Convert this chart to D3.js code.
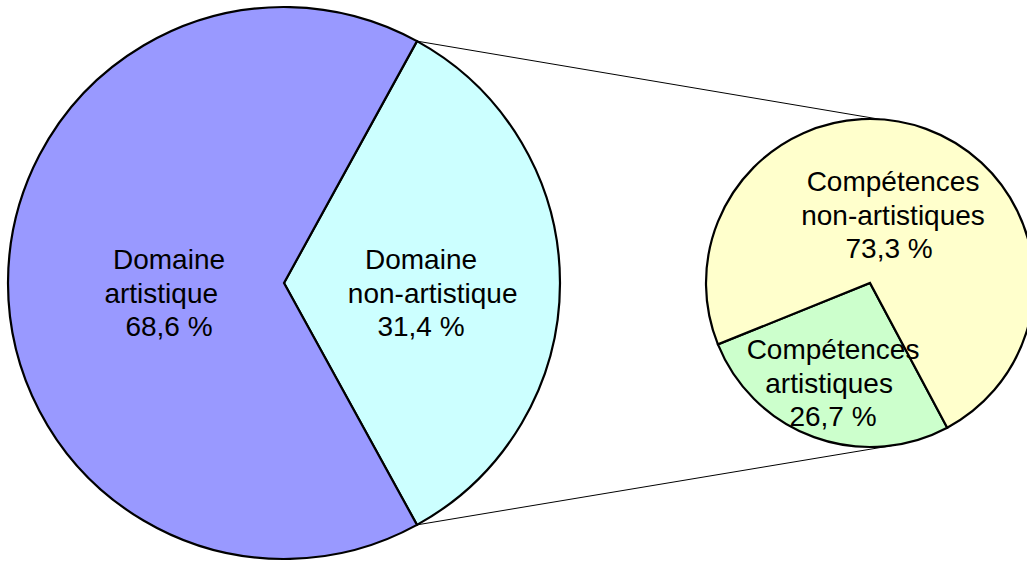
<!DOCTYPE html>
<html>
<head>
<meta charset="utf-8">
<script src="https://cdn.jsdelivr.net/npm/d3@7"></script>
<style>
  body { margin: 0; background: white; }
  svg { display: block; }
</style>
</head>
<body>
<script>
// main pie : share of each slice as drawn (label text kept separately)
var mainCategories = ["Domaine non-artistique", "Domaine artistique"];
var mainValues = [34.0, 66.0];
var mainColors = ["#CCFFFF", "#9999FF"];
var mainLabels = [
  ["Domaine", "\u00a0\u00a0\u00a0non-artistique", "31,4 %"],
  ["Domaine", "artistique\u00a0\u00a0", "68,6 %"]
];

// secondary pie (breakdown of the non-artistic slice)
var subCategories = ["Compétences artistiques", "Compétences non-artistiques"];
var subValues = [26.7, 73.3];
var subColors = ["#CCFFCC", "#FFFFCC"];
var subLabels = [
  ["Compétences", "artistiques\u00a0", "26,7 %"],
  ["Compétences", "non-artistiques", "73,3 %\u00a0"]
];

var width = 1027, height = 561;
var deg = Math.PI / 180;

var svg = d3.select("body")
  .append("svg")
    .attr("width", width)
    .attr("height", height)
    .style("background-color", "white");

// layout of the two pies
var main = {cx: 284, cy: 283, r: 276, start: 28.8};
var sub = {cx: 870, cy: 283, r: 164, start: 151.9};

function point(p, a) {
  return [p.cx + p.r * Math.sin(a * deg), p.cy - p.r * Math.cos(a * deg)];
}

// connector lines between the pies
var lines = [
  [point(main, main.start), point(sub, 3.5)],
  [point(main, main.start + mainValues[0] * 3.6), point(sub, 171.3)]
];
svg.selectAll("line.connector")
  .data(lines)
  .enter()
  .append("line")
  .attr("class", "connector")
  .attr("x1", function(d) { return d[0][0]; })
  .attr("y1", function(d) { return d[0][1]; })
  .attr("x2", function(d) { return d[1][0]; })
  .attr("y2", function(d) { return d[1][1]; })
  .attr("stroke", "#000")
  .attr("stroke-width", 1);

function drawPie(p, values, colors, labels, labelPos) {
  var pie = d3.pie()
    .sort(null)
    .startAngle(p.start * deg)
    .endAngle(p.start * deg + 2 * Math.PI);

  var arc = d3.arc().innerRadius(0).outerRadius(p.r);

  var g = svg.append("g")
    .attr("transform", "translate(" + p.cx + "," + p.cy + ")");

  var arcs = pie(values);

  g.selectAll("path")
    .data(arcs)
    .enter()
    .append("path")
    .attr("d", arc)
    .attr("fill", function(d, i) { return colors[i]; })
    .attr("stroke", "#000")
    .attr("stroke-width", 2.2)
    .attr("stroke-linejoin", "miter");

  // labels, three lines each
  var txt = g.selectAll("text")
    .data(arcs)
    .enter()
    .append("text")
    .attr("text-anchor", "middle")
    .style("font-family", "Arial, 'Liberation Sans', sans-serif")
    .style("font-size", "28px")
    .style("fill", "#000")
    .attr("transform", function(d, i) {
      return "translate(" + (labelPos[i][0] - p.cx) + "," + (labelPos[i][1] - p.cy) + ")";
    });

  txt.selectAll("tspan")
    .data(function(d, i) { return labels[i]; })
    .enter()
    .append("tspan")
    .attr("x", 0)
    .attr("y", function(d, j) { return j * 33.5; })
    .text(function(d) { return d; });
}

// label anchors: centre x, baseline of first line
drawPie(main, mainValues, mainColors, mainLabels, [[421, 269], [169, 269]]);
drawPie(sub, subValues, subColors, subLabels, [[833, 359], [893, 191]]);
</script>
</body>
</html>
